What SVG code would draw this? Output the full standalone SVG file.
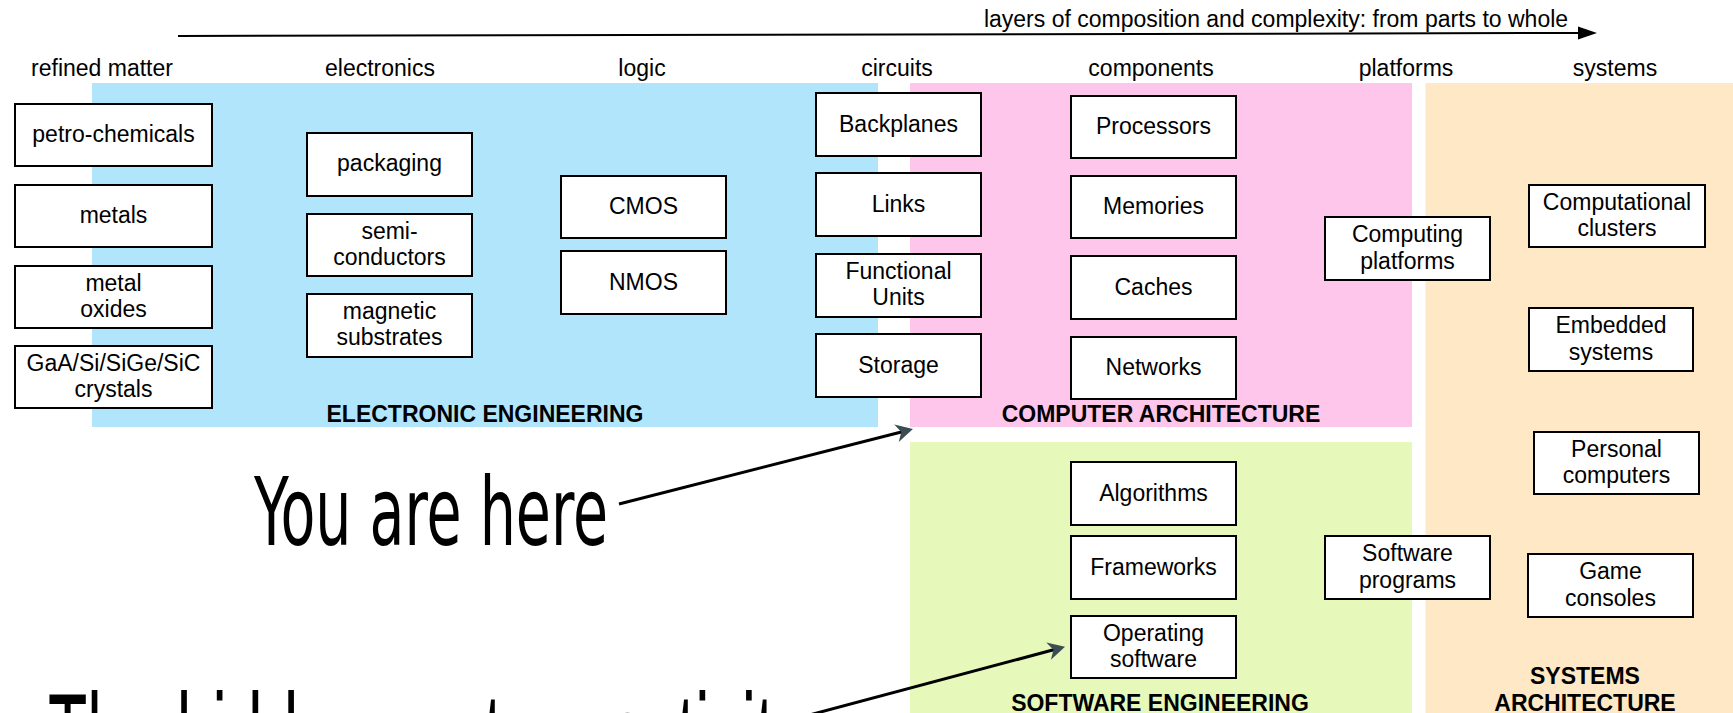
<svg xmlns="http://www.w3.org/2000/svg" width="1733" height="713" viewBox="0 0 1733 713">
<style>
.t{font-family:"Liberation Sans",Arial,Helvetica,sans-serif;font-size:23px;fill:#000;text-anchor:middle}
.b{font-family:"Liberation Sans",Arial,Helvetica,sans-serif;font-size:23px;font-weight:bold;fill:#000;text-anchor:middle}
.box{fill:#fff;stroke:#000;stroke-width:2}
.big{font-family:"Liberation Sans Narrow","DejaVu Sans Condensed","Liberation Sans",sans-serif;font-stretch:condensed;font-size:95px;fill:#000}
.big2{font-family:"Liberation Sans",Arial,sans-serif;font-size:125px;fill:#000}
.conn{stroke:#000;stroke-width:3;fill:none}
</style>
<defs>
<marker id="ah" markerUnits="userSpaceOnUse" markerWidth="20" markerHeight="20" viewBox="0 -10 18 20" refX="9" refY="0" orient="auto">
<path d="M0,-9 L17,0 L0,9 L5,0 Z" fill="#3b4d52"/>
</marker>
<marker id="top" markerUnits="userSpaceOnUse" markerWidth="22" markerHeight="16" viewBox="0 -8 20 16" refX="2" refY="0" orient="auto">
<path d="M0,-6.5 L19,0 L0,6.5 Z" fill="#000"/>
</marker>
</defs>
<rect width="1733" height="713" fill="#fff"/>
<g id="regions">
<rect x="92" y="83" width="786" height="344" fill="#b1e5fc"/>
<rect x="910" y="83" width="502" height="344" fill="#fec6ea"/>
<rect x="910" y="442" width="502" height="275" fill="#e6f9bb"/>
<rect x="1425.5" y="83" width="310" height="634" fill="#fee8c5"/>
<text class="b" x="485" y="422">ELECTRONIC ENGINEERING</text>
<text class="b" x="1161" y="422">COMPUTER ARCHITECTURE</text>
<text class="b" x="1160" y="711">SOFTWARE ENGINEERING</text>
<text class="b" x="1585" y="684">SYSTEMS</text>
<text class="b" x="1585" y="711">ARCHITECTURE</text>
</g>
<g id="headers">
<text class="t" x="102" y="76">refined matter</text>
<text class="t" x="380" y="76">electronics</text>
<text class="t" x="642" y="76">logic</text>
<text class="t" x="897" y="76">circuits</text>
<text class="t" x="1151" y="76">components</text>
<text class="t" x="1406" y="76">platforms</text>
<text class="t" x="1615" y="76">systems</text>
<text class="t" x="1276" y="27">layers of composition and complexity: from parts to whole</text>
</g>
<g id="connectors">
<line class="conn" x1="178" y1="36" x2="1580" y2="33" style="stroke-width:2" marker-end="url(#top)"/>
<line class="conn" x1="619" y1="504" x2="905.2" y2="431" marker-end="url(#ah)"/>
<line class="conn" x1="800" y1="717.5" x2="1057.3" y2="648.8" marker-end="url(#ah)"/>
</g>
<g id="n-petro"><rect class="box" x="15" y="104" width="197" height="62"/><text class="t" x="113.5" y="142">petro-chemicals</text></g>
<g id="n-metals"><rect class="box" x="15" y="185" width="197" height="62"/><text class="t" x="113.5" y="223">metals</text></g>
<g id="n-oxides"><rect class="box" x="15" y="266" width="197" height="62"/><text class="t" x="113.5" y="290.5">metal</text><text class="t" x="113.5" y="317">oxides</text></g>
<g id="n-crystals"><rect class="box" x="15" y="346" width="197" height="62"/><text class="t" x="113.5" y="370.5">GaA/Si/SiGe/SiC</text><text class="t" x="113.5" y="397">crystals</text></g>
<g id="n-packaging"><rect class="box" x="307" y="133" width="165" height="63"/><text class="t" x="389.5" y="171">packaging</text></g>
<g id="n-semi"><rect class="box" x="307" y="214" width="165" height="62"/><text class="t" x="389.5" y="238.5">semi-</text><text class="t" x="389.5" y="265">conductors</text></g>
<g id="n-magnetic"><rect class="box" x="307" y="294" width="165" height="63"/><text class="t" x="389.5" y="318.5">magnetic</text><text class="t" x="389.5" y="345">substrates</text></g>
<g id="n-cmos"><rect class="box" x="561" y="176" width="165" height="62"/><text class="t" x="643.5" y="214">CMOS</text></g>
<g id="n-nmos"><rect class="box" x="561" y="251" width="165" height="63"/><text class="t" x="643.5" y="289.5">NMOS</text></g>
<g id="n-backplanes"><rect class="box" x="816" y="93" width="165" height="63"/><text class="t" x="898.5" y="131.5">Backplanes</text></g>
<g id="n-links"><rect class="box" x="816" y="173" width="165" height="63"/><text class="t" x="898.5" y="211.5">Links</text></g>
<g id="n-functional"><rect class="box" x="816" y="254" width="165" height="63"/><text class="t" x="898.5" y="278.5">Functional</text><text class="t" x="898.5" y="305">Units</text></g>
<g id="n-storage"><rect class="box" x="816" y="334" width="165" height="63"/><text class="t" x="898.5" y="372.5">Storage</text></g>
<g id="n-processors"><rect class="box" x="1071" y="96" width="165" height="62"/><text class="t" x="1153.5" y="134">Processors</text></g>
<g id="n-memories"><rect class="box" x="1071" y="176" width="165" height="62"/><text class="t" x="1153.5" y="214">Memories</text></g>
<g id="n-caches"><rect class="box" x="1071" y="256" width="165" height="63"/><text class="t" x="1153.5" y="294.5">Caches</text></g>
<g id="n-networks"><rect class="box" x="1071" y="337" width="165" height="62"/><text class="t" x="1153.5" y="375">Networks</text></g>
<g id="n-algorithms"><rect class="box" x="1071" y="462" width="165" height="63"/><text class="t" x="1153.5" y="500.5">Algorithms</text></g>
<g id="n-frameworks"><rect class="box" x="1071" y="536" width="165" height="63"/><text class="t" x="1153.5" y="574.5">Frameworks</text></g>
<g id="n-os"><rect class="box" x="1071" y="616" width="165" height="62"/><text class="t" x="1153.5" y="640.5">Operating</text><text class="t" x="1153.5" y="667">software</text></g>
<g id="n-computing"><rect class="box" x="1325" y="217" width="165" height="63"/><text class="t" x="1407.5" y="242">Computing</text><text class="t" x="1407.5" y="268.5">platforms</text></g>
<g id="n-software"><rect class="box" x="1325" y="536" width="165" height="63"/><text class="t" x="1407.5" y="561">Software</text><text class="t" x="1407.5" y="587.5">programs</text></g>
<g id="n-clusters"><rect class="box" x="1529" y="185" width="176" height="62"/><text class="t" x="1617" y="209.5">Computational</text><text class="t" x="1617" y="236">clusters</text></g>
<g id="n-embedded"><rect class="box" x="1529" y="308" width="164" height="63"/><text class="t" x="1611" y="333">Embedded</text><text class="t" x="1611" y="359.5">systems</text></g>
<g id="n-personal"><rect class="box" x="1534" y="432" width="165" height="62"/><text class="t" x="1616.5" y="456.5">Personal</text><text class="t" x="1616.5" y="483">computers</text></g>
<g id="n-game"><rect class="box" x="1528" y="554" width="165" height="63"/><text class="t" x="1610.5" y="579">Game</text><text class="t" x="1610.5" y="605.5">consoles</text></g>
<g id="callouts">
<text class="big" x="254" y="545" textLength="354" lengthAdjust="spacingAndGlyphs">You are here</text>
<text class="big2" x="48" y="780" textLength="758" lengthAdjust="spacingAndGlyphs">The hidden system activity</text>
</g>
</svg>
